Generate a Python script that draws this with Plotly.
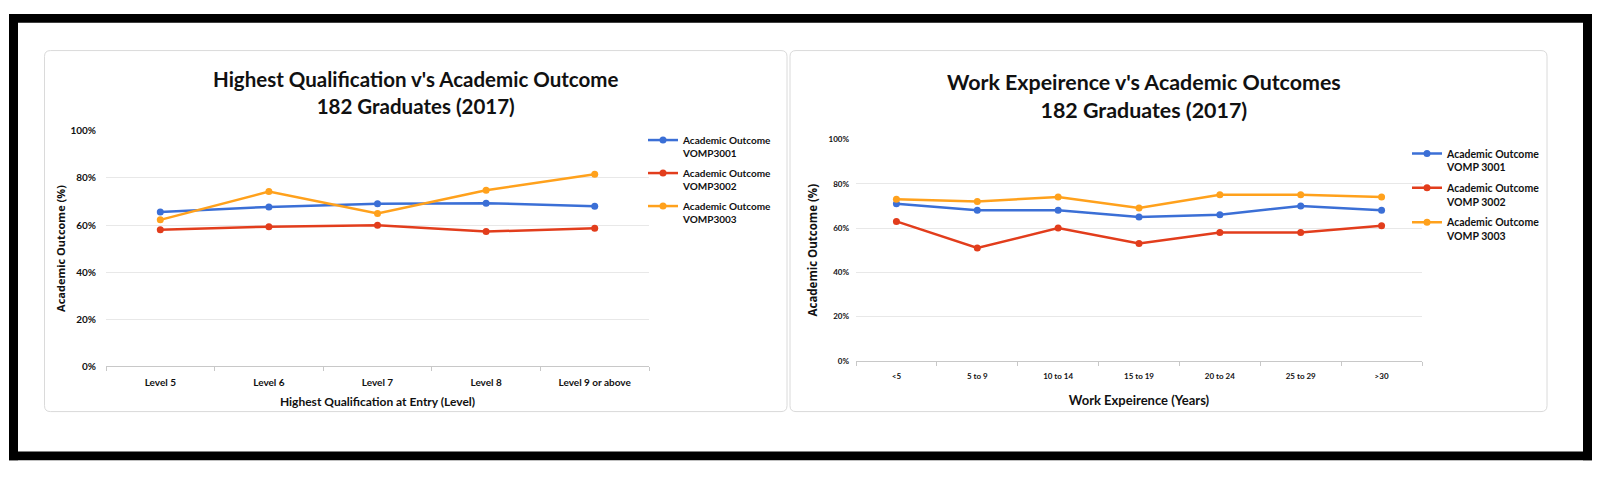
import plotly.graph_objects as go

# The page body has an 8px default margin, so the figure is placed at (8, 8)
OFF = 8
W, H = 1600 - OFF, 477 - OFF

# ---------------- data ----------------
qual_levels = ["Level 5", "Level 6", "Level 7", "Level 8", "Level 9 or above"]
qual_3001 = [0.655, 0.677, 0.690, 0.693, 0.680]
qual_3002 = [0.580, 0.593, 0.599, 0.572, 0.586]
qual_3003 = [0.622, 0.742, 0.649, 0.748, 0.816]

work_bands = ["<5", "5 to 9", "10 to 14", "15 to 19", "20 to 24", "25 to 29", ">30"]
work_3001 = [0.71, 0.68, 0.68, 0.65, 0.66, 0.70, 0.68]
work_3002 = [0.63, 0.51, 0.60, 0.53, 0.58, 0.58, 0.61]
work_3003 = [0.73, 0.72, 0.74, 0.69, 0.75, 0.75, 0.74]

left_names = ["Academic Outcome<br>VOMP3001", "Academic Outcome<br>VOMP3002", "Academic Outcome<br>VOMP3003"]
right_names = ["Academic Outcome<br>VOMP 3001", "Academic Outcome<br>VOMP 3002", "Academic Outcome<br>VOMP 3003"]
y_ticks = [0, 0.2, 0.4, 0.6, 0.8, 1.0]
y_ticklabels = ["0%", "20%", "40%", "60%", "80%", "100%"]

colors = ["#3B6FD6", "#E23D1C", "#FFA11C"]
FONT = "Lato"
TXT = "#111111"


def px(x):
    return (x - OFF) / W


def py(y):
    return 1 - (y - OFF) / H


fig = go.Figure()

for i, (vals, name) in enumerate(zip([qual_3001, qual_3002, qual_3003], left_names)):
    fig.add_trace(go.Scatter(
        x=qual_levels, y=vals, name=name, mode="lines+markers",
        line=dict(color=colors[i], width=2.5), marker=dict(size=7, color=colors[i]),
        xaxis="x", yaxis="y", legend="legend", legendgroup=f"l{i}"))

for i, (vals, name) in enumerate(zip([work_3001, work_3002, work_3003], right_names)):
    fig.add_trace(go.Scatter(
        x=work_bands, y=vals, name=name, mode="lines+markers",
        line=dict(color=colors[i], width=2.5), marker=dict(size=7, color=colors[i]),
        xaxis="x2", yaxis="y2", legend="legend2", legendgroup=f"r{i}"))

axis_common = dict(showgrid=False, zeroline=False, showline=True, linecolor="#C8C8C8",
                   linewidth=1, ticks="outside", tickson="boundaries", ticklen=4,
                   tickcolor="#C8C8C8", fixedrange=True)
yaxis_common = dict(range=[0, 1.0], tickvals=y_ticks, ticktext=y_ticklabels, showgrid=True,
                    gridcolor="#E8E8E8", gridwidth=1, zeroline=False, showline=False,
                    fixedrange=True)

fig.update_layout(
    width=W, height=H,
    margin=dict(l=0, r=0, t=0, b=0),
    paper_bgcolor="white", plot_bgcolor="white",
    showlegend=True,
    xaxis=dict(domain=[px(106), px(649)], anchor="y", range=[-0.5, 4.5],
               tickfont=dict(family=FONT, size=10, color=TXT, weight="bold"),
               ticklabelstandoff=7,
               title=dict(text="Highest Qualification at Entry (Level)",
                          font=dict(family=FONT, size=12, color=TXT, weight="bold"), standoff=10),
               **axis_common),
    yaxis=dict(domain=[py(368.3), py(127)], anchor="x",
               tickfont=dict(family=FONT, size=10, color=TXT, weight="bold"),
               ticklabelstandoff=9,
               title=dict(text="Academic Outcome (%)",
                          font=dict(family="Open Sans", size=11, color=TXT, weight="bold"), standoff=2),
               **yaxis_common),
    xaxis2=dict(domain=[px(856), px(1422)], anchor="y2", range=[-0.5, 6.5],
                tickfont=dict(family=FONT, size=8, color=TXT, weight="bold"),
                ticklabelstandoff=7,
                title=dict(text="Work Expeirence (Years)",
                           font=dict(family=FONT, size=13, color=TXT, weight="bold"), standoff=16),
                **axis_common),
    yaxis2=dict(domain=[py(363), py(135.7)], anchor="x2",
                tickfont=dict(family=FONT, size=8, color=TXT, weight="bold"),
                ticklabelstandoff=6,
                title=dict(text="Academic Outcome (%)",
                           font=dict(family="Open Sans", size=11.5, color=TXT, weight="bold"), standoff=8),
                **yaxis_common),
    legend=dict(x=px(643), y=py(123), xanchor="left", yanchor="top",
                font=dict(family=FONT, size=10, color=TXT, weight="bold"),
                traceorder="grouped", tracegroupgap=4, valign="top",
                bgcolor="rgba(0,0,0,0)", itemwidth=30),
    legend2=dict(x=px(1407), y=py(136.5), xanchor="left", yanchor="top",
                 font=dict(family=FONT, size=10.5, color=TXT, weight="bold"),
                 traceorder="grouped", tracegroupgap=4, valign="top",
                 bgcolor="rgba(0,0,0,0)", itemwidth=30),
)

# Titles
fig.add_annotation(x=px(415), y=py(87.5), xref="paper", yref="paper", showarrow=False,
                   xanchor="center", yanchor="middle",
                   text="<b>Highest Qualification v's Academic Outcome<br>182 Graduates (2017)</b>",
                   font=dict(family=FONT, size=20.5, color=TXT), align="center")
fig.add_annotation(x=px(1144), y=py(91.5), xref="paper", yref="paper", showarrow=False,
                   xanchor="center", yanchor="middle",
                   text="<b>Work Expeirence v's Academic Outcomes<br>182 Graduates (2017)</b>",
                   font=dict(family=FONT, size=21.4, color=TXT), align="center")


def rounded_rect(x0, y0, x1, y1, r):
    X0, X1 = px(x0), px(x1)
    Y0, Y1 = py(y0), py(y1)
    rx, ry = r / W, r / H
    return (f"M {X0+rx},{Y0} L {X1-rx},{Y0} Q {X1},{Y0} {X1},{Y0-ry} "
            f"L {X1},{Y1+ry} Q {X1},{Y1} {X1-rx},{Y1} L {X0+rx},{Y1} "
            f"Q {X0},{Y1} {X0},{Y1+ry} L {X0},{Y0-ry} Q {X0},{Y0} {X0+rx},{Y0} Z")


shapes = [
    dict(type="path", xref="paper", yref="paper", path=rounded_rect(44.5, 44.5, 787, 415, 6),
         line=dict(color="#DADADA", width=1), layer="below"),
    dict(type="path", xref="paper", yref="paper", path=rounded_rect(790, 44.5, 1547, 415, 6),
         line=dict(color="#DADADA", width=1), layer="below"),
    # black frame
    dict(type="rect", xref="paper", yref="paper", x0=px(9), x1=px(1593), y0=py(16), y1=py(7),
         fillcolor="black", line=dict(width=0)),
    dict(type="rect", xref="paper", yref="paper", x0=px(9), x1=px(1593), y0=py(465), y1=py(456),
         fillcolor="black", line=dict(width=0)),
    dict(type="rect", xref="paper", yref="paper", x0=px(9), x1=px(18), y0=py(465), y1=py(7),
         fillcolor="black", line=dict(width=0)),
    dict(type="rect", xref="paper", yref="paper", x0=px(1583), x1=px(1593), y0=py(465), y1=py(7),
         fillcolor="black", line=dict(width=0)),
]
fig.update_layout(shapes=shapes)

fig.write_html("out.html")
